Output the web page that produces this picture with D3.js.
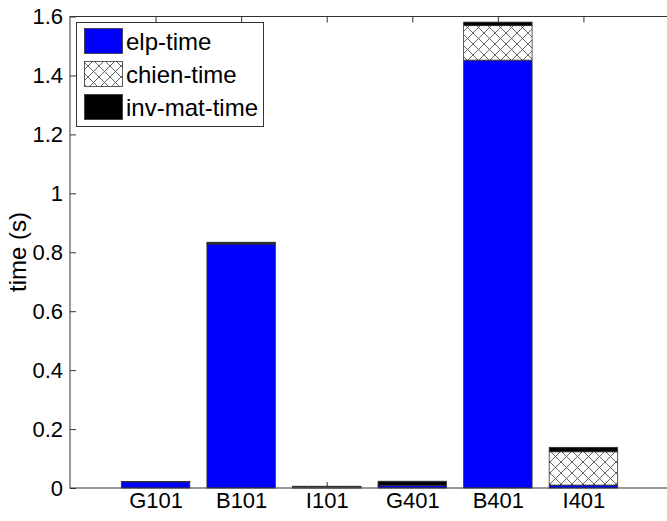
<!DOCTYPE html>
<html>
<head>
<meta charset="utf-8">
<script src="https://cdn.jsdelivr.net/npm/d3@7"></script>
<style>
  body { margin: 0; background: #fff; }
  text { font-family: "Liberation Sans", Arial, sans-serif; }
</style>
</head>
<body>
<svg id="barSVG" width="667" height="521"></svg>
<script>
// data
var categories = ['G101', 'B101', 'I101', 'G401', 'B401', 'I401'];
var elpTime    = [0.021, 0.828, 0.001, 0.008, 1.452, 0.010];
var chienTime  = [0.0005, 0.001, 0.004, 0.001, 0.117, 0.113];
var invMatTime = [0.0005, 0.005, 0.001, 0.014, 0.012, 0.015];
var yTicks = [0, 0.2, 0.4, 0.6, 0.8, 1, 1.2, 1.4, 1.6];
var seriesNames = ['elp-time', 'chien-time', 'inv-mat-time'];

var svg, x_scale, y_scale;
var plot = { left: 70, right: 669, top: 16.5, bottom: 488 };
var tickFont = 22;
var labelFont = 24;
var tickLen = 6;

function drawBarChart()
{
    svg = d3.select('#barSVG');
    svg.selectAll('*').remove();

    // hatch pattern for chien-time
    var pat = svg.append('defs').append('pattern')
        .attr('id', 'hatch')
        .attr('patternUnits', 'userSpaceOnUse')
        .attr('width', 11)
        .attr('height', 11);
    pat.append('rect').attr('width', 11).attr('height', 11).attr('fill', '#fff');
    pat.append('path')
        .attr('d', 'M0,0L11,11M0,11L11,0')
        .attr('stroke', '#555')
        .attr('stroke-width', 0.9);

    x_scale = d3.scaleLinear()
        .domain([0, categories.length + 1])
        .range([plot.left, plot.right]);

    y_scale = d3.scaleLinear()
        .domain([0, 1.6])
        .range([plot.bottom, plot.top]);

    var xPos = categories.map(function(d, i){ return i + 1; });

    // axes (ticks point inward, matlab style)
    var yAxis = d3.axisLeft(y_scale)
        .tickValues(yTicks)
        .tickSizeInner(-tickLen)
        .tickSizeOuter(0)
        .tickPadding(7)
        .tickFormat(d3.format('~g'));
    var yAxis_g = svg.append('g')
        .attr('transform', 'translate(' + plot.left + ',0)')
        .call(yAxis);

    var xAxis = d3.axisBottom(x_scale)
        .tickValues(xPos)
        .tickSizeInner(-tickLen)
        .tickSizeOuter(0)
        .tickPadding(4)
        .tickFormat(function(d){ return categories[d - 1]; });
    var xAxis_g = svg.append('g')
        .attr('transform', 'translate(0,' + plot.bottom + ')')
        .call(xAxis);

    var xTop = d3.axisTop(x_scale)
        .tickValues(xPos)
        .tickSizeInner(-tickLen)
        .tickSizeOuter(0)
        .tickFormat('');
    svg.append('g')
        .attr('transform', 'translate(0,' + plot.top + ')')
        .call(xTop);

    [yAxis_g, xAxis_g].forEach(function(g){
        g.selectAll('text')
            .attr('font-size', tickFont)
            .attr('fill', '#000')
            .style('font-family', '"Liberation Sans", Arial, sans-serif');
    });
    svg.selectAll('.domain').remove();
    svg.selectAll('.tick line').attr('stroke', '#333');

    // stacked bars
    var rows = categories.map(function(c, i){
        return { cat: c, pos: i + 1, v: [elpTime[i], chienTime[i], invMatTime[i]] };
    });
    var fills = ['#0000ff', 'url(#hatch)', '#000'];
    var barW = x_scale(0.8) - x_scale(0);

    rows.forEach(function(r){
        var base = 0;
        r.v.forEach(function(v, k){
            svg.append('rect')
                .attr('x', x_scale(r.pos - 0.4))
                .attr('y', y_scale(base + v))
                .attr('width', barW)
                .attr('height', y_scale(base) - y_scale(base + v))
                .attr('fill', fills[k])
                .attr('stroke', '#333')
                .attr('stroke-width', 0.8);
            base += v;
        });
    });

    // axes box
    svg.append('rect')
        .attr('x', plot.left)
        .attr('y', plot.top)
        .attr('width', plot.right - plot.left)
        .attr('height', plot.bottom - plot.top)
        .attr('fill', 'none')
        .attr('stroke', '#333')
        .attr('stroke-width', 1);

    // y label
    svg.append('text')
        .attr('transform', 'rotate(-90)')
        .attr('x', -252)
        .attr('y', 26)
        .attr('text-anchor', 'middle')
        .attr('font-size', labelFont)
        .text('time (s)');

    // legend
    var lg = svg.append('g');
    lg.append('rect')
        .attr('x', 76.5).attr('y', 22.5)
        .attr('width', 187).attr('height', 104)
        .attr('fill', '#fff')
        .attr('stroke', '#333');
    seriesNames.forEach(function(name, k){
        var yy = 28.5 + k * 33;
        lg.append('rect')
            .attr('x', 84.5).attr('y', yy)
            .attr('width', 38).attr('height', 25)
            .attr('fill', fills[k])
            .attr('stroke', '#333')
            .attr('stroke-width', 0.8);
        lg.append('text')
            .attr('x', 126)
            .attr('y', yy + 21)
            .attr('font-size', labelFont)
            .text(name);
    });
}

drawBarChart();
</script>
</body>
</html>
